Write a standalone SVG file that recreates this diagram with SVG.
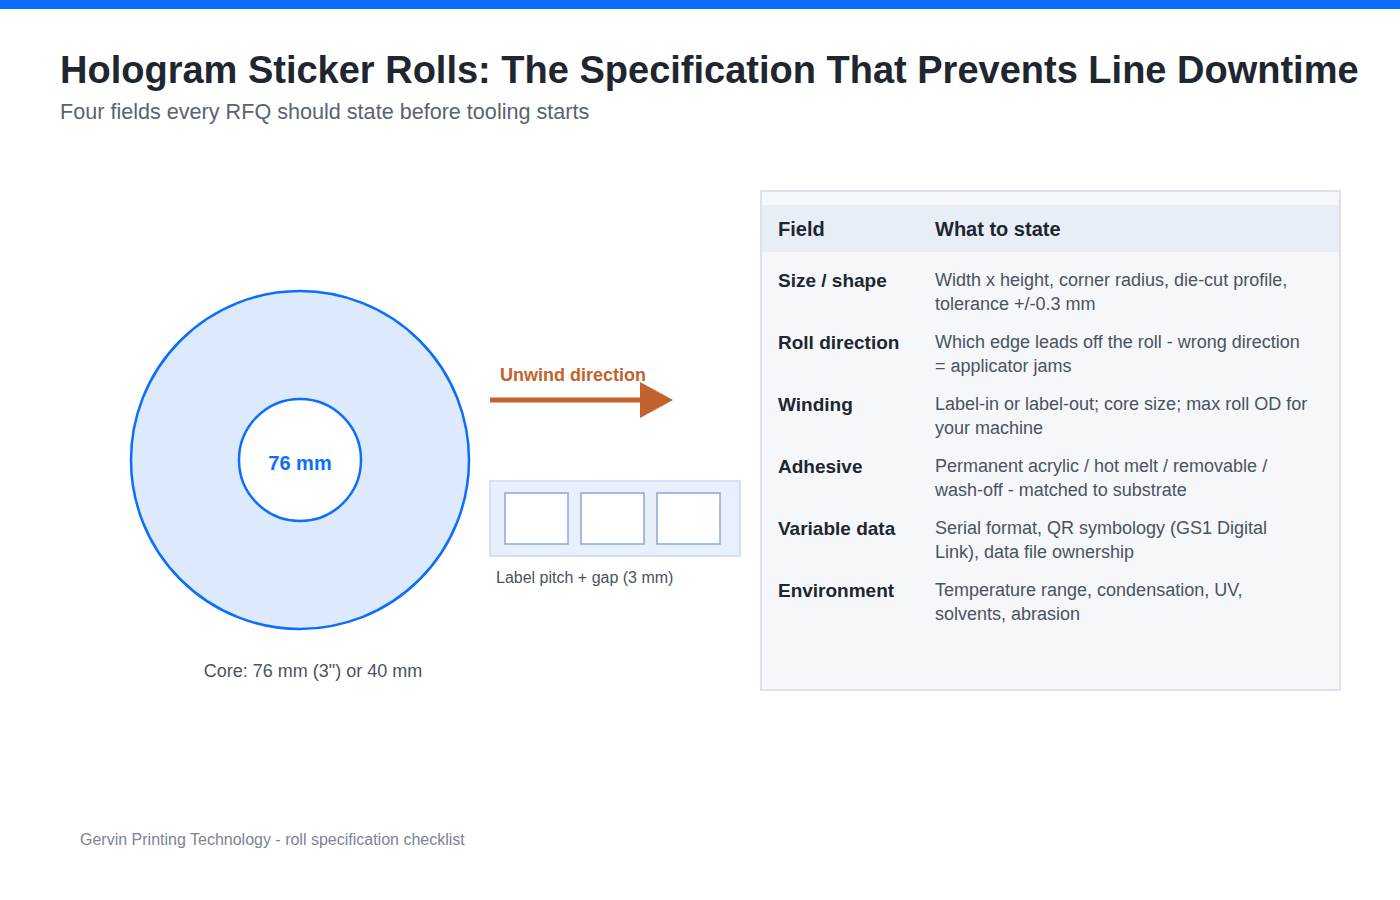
<svg xmlns="http://www.w3.org/2000/svg" width="1400" height="900" viewBox="0 0 1400 900">
<style>
text{font-family:"Liberation Sans",Arial,sans-serif}
.f{font-weight:bold;font-size:19px;fill:#1f2630}
.d{font-size:18px;fill:#4a5360}
.h{font-weight:bold;font-size:20px;fill:#1f2630}
.lb{stroke:#8fa6d6;stroke-width:1.5;fill:#fff}
</style>
<rect width="1400" height="900" fill="#fff"/>
<rect width="1400" height="9" fill="#0d6efd"/>
<text x="60" y="83" font-size="38" font-weight="bold" fill="#1f2630">Hologram Sticker Rolls: The Specification That Prevents Line Downtime</text>
<text x="60" y="119" font-size="21.6" fill="#5a6370">Four fields every RFQ should state before tooling starts</text>
<g id="roll">
<circle cx="300" cy="460" r="169" fill="#dde9fd" stroke="#0d6efd" stroke-width="2.5"/>
<circle cx="300" cy="460" r="61" fill="#fff" stroke="#0d6efd" stroke-width="2.5"/>
<text x="300" y="470" text-anchor="middle" font-size="20" font-weight="bold" fill="#0d6efd">76 mm</text>
<text x="313" y="677" text-anchor="middle" font-size="18" fill="#4a5360">Core: 76 mm (3") or 40 mm</text>
</g>
<g id="connectors">
<text x="500" y="381" font-size="18" font-weight="bold" fill="#c4622d">Unwind direction</text>
<line x1="490" y1="400" x2="642" y2="400" stroke="#c4622d" stroke-width="5"/>
<polygon points="640,382 673,400 640,418" fill="#c4622d"/>
</g>
<g id="strip">
<rect x="490" y="481" width="250" height="75" fill="#e8f0fd" stroke="#c9d9f5" stroke-width="1.5"/>
<rect class="lb" x="505" y="493" width="63" height="51"/>
<rect class="lb" x="581" y="493" width="63" height="51"/>
<rect class="lb" x="657" y="493" width="63" height="51"/>
<text x="496" y="583" font-size="16" fill="#4a5360">Label pitch + gap (3 mm)</text>
</g>
<g id="table">
<rect x="761" y="191" width="579" height="499" fill="#f5f7fa" stroke="#dde2ea" stroke-width="2"/>
<rect x="762" y="205" width="577" height="47" fill="#e7eef6"/>
<text class="h" x="778" y="236">Field</text>
<text class="h" x="935" y="236">What to state</text>
<text class="f" x="778" y="287">Size / shape</text>
<text class="d" x="935" y="286">Width x height, corner radius, die-cut profile,</text>
<text class="d" x="935" y="310">tolerance +/-0.3 mm</text>
<text class="f" x="778" y="349">Roll direction</text>
<text class="d" x="935" y="348">Which edge leads off the roll - wrong direction</text>
<text class="d" x="935" y="372">= applicator jams</text>
<text class="f" x="778" y="411">Winding</text>
<text class="d" x="935" y="410">Label-in or label-out; core size; max roll OD for</text>
<text class="d" x="935" y="434">your machine</text>
<text class="f" x="778" y="473">Adhesive</text>
<text class="d" x="935" y="472">Permanent acrylic / hot melt / removable /</text>
<text class="d" x="935" y="496">wash-off - matched to substrate</text>
<text class="f" x="778" y="535">Variable data</text>
<text class="d" x="935" y="534">Serial format, QR symbology (GS1 Digital</text>
<text class="d" x="935" y="558">Link), data file ownership</text>
<text class="f" x="778" y="597">Environment</text>
<text class="d" x="935" y="596">Temperature range, condensation, UV,</text>
<text class="d" x="935" y="620">solvents, abrasion</text>
</g>
<text x="80" y="845" font-size="16" fill="#7b8494">Gervin Printing Technology - roll specification checklist</text>
</svg>
